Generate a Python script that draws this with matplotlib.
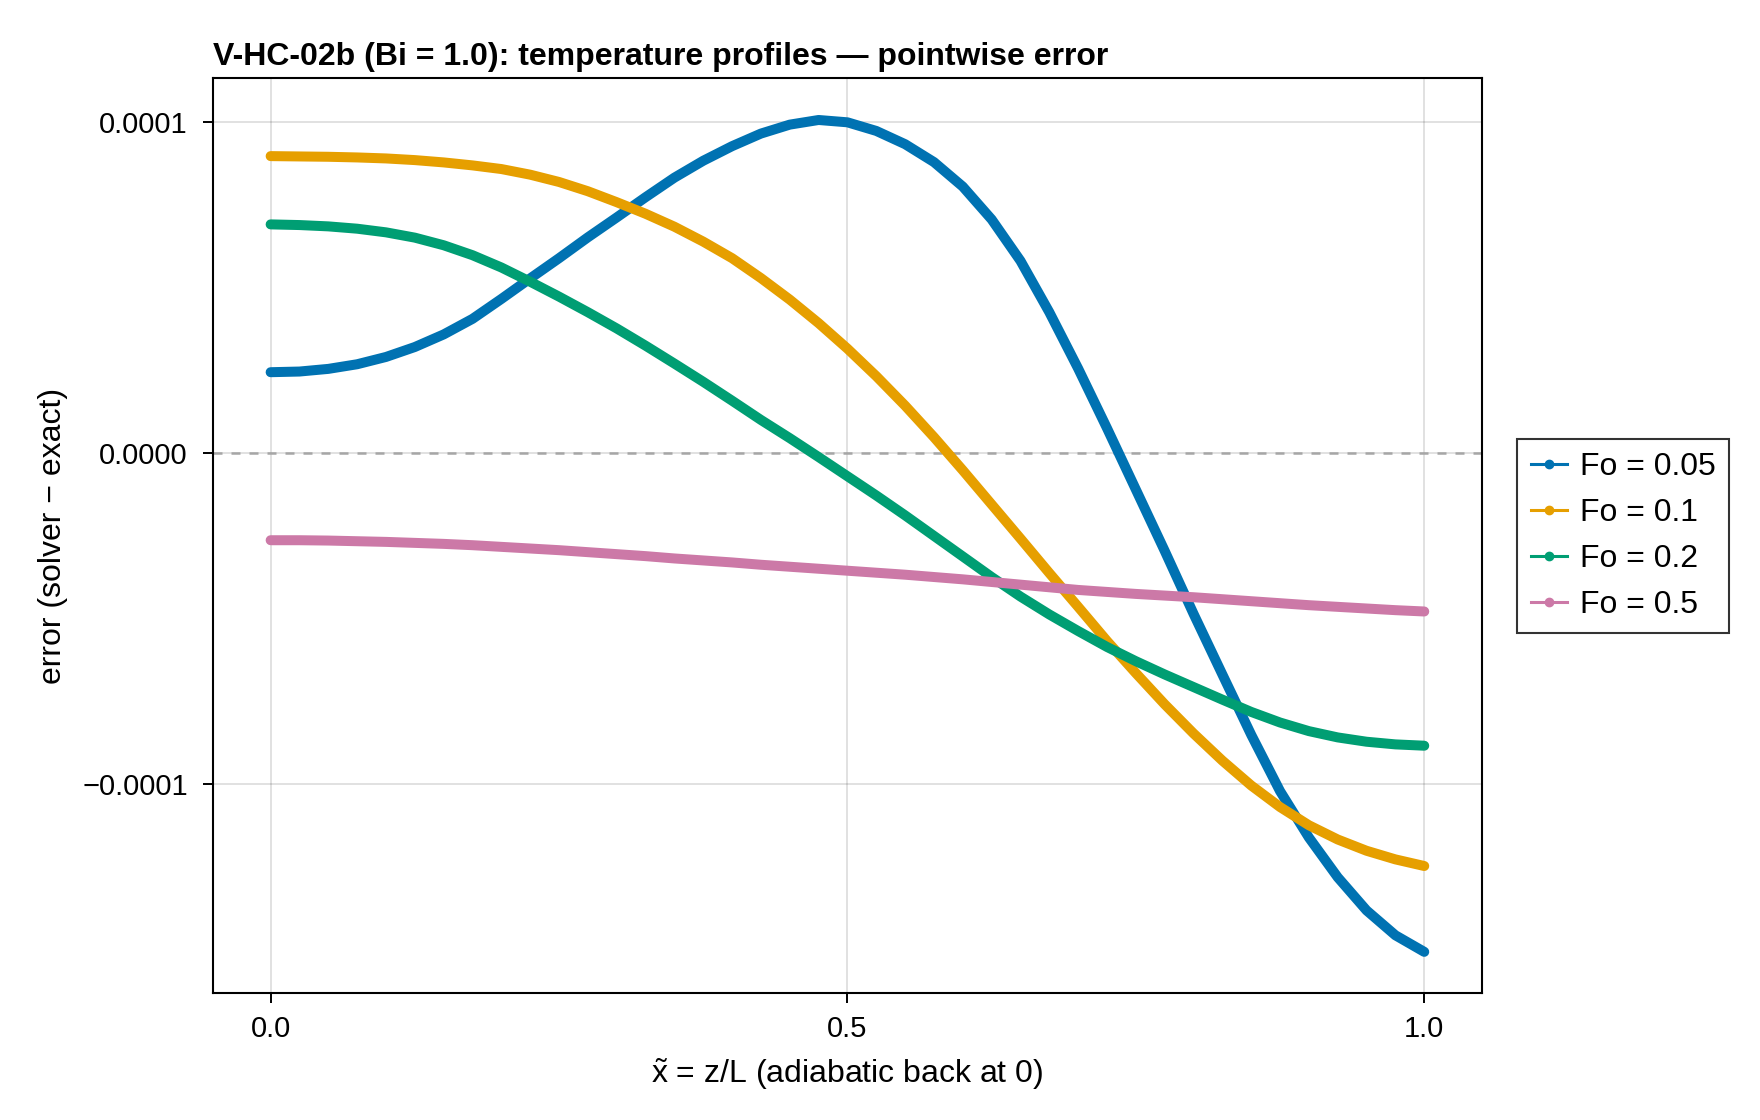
import matplotlib
matplotlib.use("Agg")
import matplotlib.pyplot as plt
from matplotlib.lines import Line2D

plt.rcParams['font.family'] = ['Liberation Sans', 'DejaVu Sans']
plt.rcParams['mathtext.fontset'] = 'custom'
plt.rcParams['mathtext.rm'] = 'Liberation Sans'

x_tilde = [0.000, 0.025, 0.050, 0.075, 0.100, 0.125, 0.150, 0.175, 0.200, 0.225,
           0.250, 0.275, 0.300, 0.325, 0.350, 0.375, 0.400, 0.425, 0.450, 0.475,
           0.500, 0.525, 0.550, 0.575, 0.600, 0.625, 0.650, 0.675, 0.700, 0.725,
           0.750, 0.775, 0.800, 0.825, 0.850, 0.875, 0.900, 0.925, 0.950, 0.975, 1.000]

# pointwise error (solver - exact), in units of 1e-4
err_fo005 = [0.244, 0.246, 0.254, 0.268, 0.290, 0.320, 0.358, 0.405, 0.465, 0.527,
             0.588, 0.651, 0.711, 0.772, 0.831, 0.882, 0.926, 0.964, 0.991, 1.005,
             0.998, 0.972, 0.932, 0.878, 0.804, 0.705, 0.580, 0.425, 0.255, 0.075,
             -0.110, -0.295, -0.485, -0.668, -0.850, -1.020, -1.160, -1.280, -1.380, -1.455, -1.505]
err_fo01 = [0.896, 0.895, 0.894, 0.892, 0.889, 0.884, 0.877, 0.868, 0.857, 0.840,
            0.818, 0.790, 0.757, 0.722, 0.683, 0.638, 0.588, 0.528, 0.463, 0.392,
            0.315, 0.232, 0.143, 0.048, -0.052, -0.155, -0.258, -0.362, -0.464, -0.567,
            -0.664, -0.758, -0.846, -0.928, -1.003, -1.068, -1.123, -1.166, -1.200, -1.226, -1.246]
err_fo02 = [0.690, 0.688, 0.684, 0.677, 0.666, 0.650, 0.627, 0.597, 0.560, 0.517,
            0.472, 0.425, 0.376, 0.324, 0.270, 0.215, 0.158, 0.100, 0.045, -0.012,
            -0.070, -0.128, -0.188, -0.250, -0.312, -0.374, -0.433, -0.487, -0.537, -0.585,
            -0.628, -0.668, -0.706, -0.744, -0.781, -0.813, -0.839, -0.858, -0.871, -0.879, -0.883]
err_fo05 = [-0.263, -0.263, -0.264, -0.266, -0.268, -0.271, -0.274, -0.278, -0.283, -0.288,
            -0.293, -0.299, -0.305, -0.311, -0.318, -0.324, -0.330, -0.337, -0.343, -0.349,
            -0.355, -0.361, -0.367, -0.374, -0.381, -0.389, -0.397, -0.405, -0.413, -0.419,
            -0.425, -0.430, -0.435, -0.441, -0.447, -0.453, -0.459, -0.464, -0.469, -0.474, -0.478]

labels = ['Fo = 0.05', 'Fo = 0.1', 'Fo = 0.2', 'Fo = 0.5']
colors = ['#0072B2', '#E69F00', '#009E73', '#CC79A7']
series = [err_fo005, err_fo01, err_fo02, err_fo05]

fig = plt.figure(figsize=(17.6, 11.2), dpi=100)
ax = fig.add_axes([0.121, 0.113, 0.721, 0.817])

ax.axhline(0, color='#a6a6a6', lw=1.8, ls=(0, (3.6, 3.6)), zorder=1)

handles = []
for ys, c, lab in zip(series, colors, labels):
    yv = [v * 1e-4 for v in ys]
    ax.plot(x_tilde, yv, color=c, lw=7.2, solid_capstyle='round',
            solid_joinstyle='round', zorder=3)
    handles.append(Line2D([], [], color=c, lw=2.2, marker='o', ms=6, label=lab))

ax.margins(x=0.05, y=0.05)
ax.set_xticks([0.0, 0.5, 1.0])
ax.set_xticklabels(['0.0', '0.5', '1.0'])
ax.set_yticks([-1e-4, 0.0, 1e-4])
ax.set_yticklabels(['\u22120.0001', '0.0000', '0.0001'])
ax.grid(True, color='black', alpha=0.12, lw=1.4)
ax.set_axisbelow(True)

for s in ax.spines.values():
    s.set_linewidth(1.5)
ax.tick_params(axis='both', direction='out', length=7.2, width=1.4,
               labelsize=21, pad=8, top=False, right=False)
ax.tick_params(axis='y', pad=11)

ax.set_xlabel(r'$\tilde{\mathrm{x}}$ = z/L (adiabatic back at 0)', fontsize=23, labelpad=10)
ax.set_ylabel('error (solver \u2212 exact)', fontsize=23, labelpad=10)
ax.set_title('V-HC-02b (Bi = 1.0): temperature profiles \u2014 pointwise error',
             loc='left', fontweight='bold', fontsize=23, pad=10)

leg = ax.legend(handles=handles, loc='center left', bbox_to_anchor=(1.028, 0.5),
                fontsize=23, frameon=True, fancybox=False, edgecolor='black',
                handlelength=1.13, handletextpad=0.4, labelspacing=0.5,
                borderpad=0.42, borderaxespad=0)
leg.get_frame().set_linewidth(1.5)

fig.savefig('out.png', dpi=100)
